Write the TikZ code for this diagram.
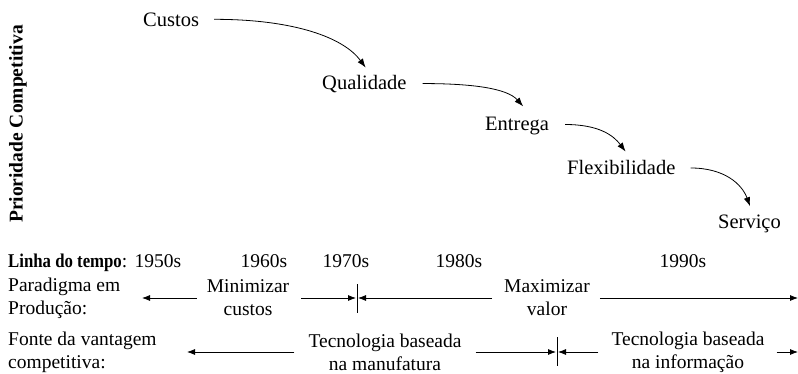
\documentclass[tikz,border=0pt]{standalone}
\usepackage{fontspec}
\setmainfont{Liberation Serif}
\usetikzlibrary{arrows.meta,calc}
\begin{document}
\begin{tikzpicture}[x=1pt,y=-1pt,
  prio/.style={inner sep=0pt,font=\fontsize{20.5}{24}\selectfont},
  lbl/.style={inner sep=0pt,font=\fontsize{19.5}{23}\selectfont},
  blk/.style={inner sep=0pt,align=center,font=\fontsize{19.5}{23}\selectfont},
  curvearrow/.style={line width=0.8pt,-{Latex[length=9pt,width=6.5pt]}},
  flow/.style={line width=0.8pt,-{Latex[length=8pt,width=6pt]}},
  tick/.style={line width=0.8pt}]
\useasboundingbox (0,0) rectangle (798,374);

% vertical axis title
\node[inner sep=0pt,rotate=90,font=\fontsize{19.5}{23}\selectfont\bfseries] (axis) at (18,124) {Prioridade Competitiva};

% competitive priorities, stepping down
\node[prio,anchor=base west] (custos) at (143,27) {Custos};
\node[prio,anchor=base west] (qual) at (322,90) {Qualidade};
\node[prio,anchor=base west] (entrega) at (485,131) {Entrega};
\node[prio,anchor=base west] (flex) at (567,175) {Flexibilidade};
\node[prio,anchor=base west] (serv) at (718,229) {Serviço};

\draw[curvearrow] ($(custos.east)+(15,-1)$) .. controls +(80,0) and +(-22,-30) .. ($(qual.north east)+(-41,-8)$);
\draw[curvearrow] ($(qual.east)+(16,-1)$) .. controls +(50,0) and +(-16,-18) .. ($(entrega.north east)+(-26,-11)$);
\draw[curvearrow] ($(entrega.east)+(16,-2)$) .. controls +(34,0) and +(-12,-16) .. ($(flex.north east)+(-50,-9)$);
\draw[curvearrow] ($(flex.east)+(15,0)$) .. controls +(34,0) and +(-8,-22) .. ($(serv.north east)+(-31,-9)$);

% timeline header
\node[lbl,anchor=base west] (linha) at (8,268) {\scalebox{0.86}[1]{\textbf{Linha do tempo}}:};
\node[lbl,anchor=base] (d50) at (158,268) {1950s};
\node[lbl,anchor=base] (d60) at (264,268) {1960s};
\node[lbl,anchor=base] (d70) at (346,268) {1970s};
\node[lbl,anchor=base] (d80) at (459,268) {1980s};
\node[lbl,anchor=base] (d90) at (683,268) {1990s};

% production paradigm row
\node[blk,align=left,anchor=west] (parad) at (8,298) {Paradigma em\\Produção:};
\node[blk] (mincost) at (248,298) {Minimizar\\custos};
\node[blk] (maxval) at (547,298) {Maximizar\\valor};
\coordinate (lend1) at (142,298);
\coordinate (tick1) at (357,298);
\coordinate (rend1) at (798,298);
\draw[tick] ($(tick1)+(0,-14)$) -- ($(tick1)+(0,15)$);
\draw[flow] ($(mincost.west)+(-10,0)$) -- (lend1);
\draw[flow] ($(mincost.east)+(12,0)$) -- ($(tick1)+(-1,0)$);
\draw[flow] ($(maxval.west)+(-12,0)$) -- ($(tick1)+(1,0)$);
\draw[flow] ($(maxval.east)+(10,0)$) -- (rend1);

% source of competitive advantage row
\node[blk,align=left,anchor=west] (fonte) at (8,352) {Fonte da vantagem\\competitiva:};
\node[blk] (tecman) at (385,352) {Tecnologia baseada\\na manufatura};
\node[blk] (tecinf) at (688,352) {Tecnologia baseada\\na informação};
\coordinate (lend2) at (187,352);
\coordinate (tick2) at (557,352);
\coordinate (rend2) at (798,352);
\draw[tick] ($(tick2)+(0,-15)$) -- ($(tick2)+(0,14)$);
\draw[flow] ($(tecman.west)+(-14,0)$) -- (lend2);
\draw[flow] ($(tecman.east)+(14,0)$) -- ($(tick2)+(-1,0)$);
\draw[flow] ($(tecinf.west)+(-13,0)$) -- ($(tick2)+(1,0)$);
\draw[flow] ($(tecinf.east)+(12,0)$) -- (rend2);
\end{tikzpicture}
\end{document}
